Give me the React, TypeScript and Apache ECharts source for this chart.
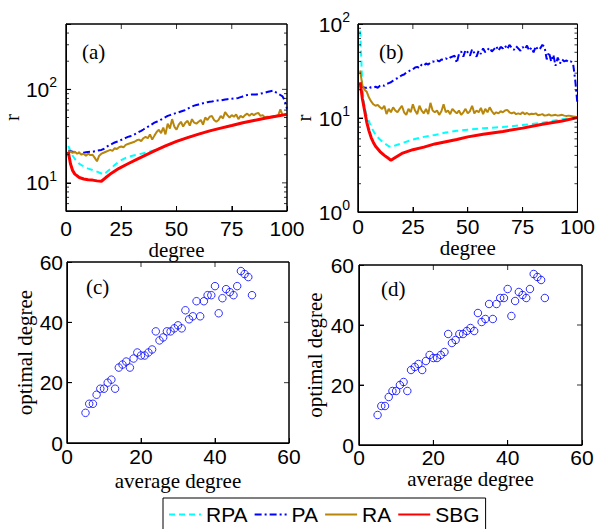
import React, { useEffect, useRef } from 'react';
import * as echarts from 'echarts';

// ---------- data ----------
const legendNames = ['RPA', 'PA', 'RA', 'SBG'];

// axis ranges and tick values
const degreeRange = [0, 100];
const rRangeA = [5, 500];
const rRangeB = [1, 100];
const avgRange = [0, 60];
const optRange = [0, 60];
const degreeTicks = [25, 50, 75];
const rTicksA = [10, 100];
const rTicksB = [10];
const rMinorA = [6, 7, 8, 9, 20, 30, 40, 50, 60, 70, 80, 90, 200, 300, 400];
const rMinorB = [2, 3, 4, 5, 6, 7, 8, 9, 20, 30, 40, 50, 60, 70, 80, 90];
const avgTicks = [20, 40];
const optTicks = [20, 40];

// panel (a)
const aRPA = [[1,24.8],[2,22],[3,19.5],[4,18],[6,16],[8,15],[10,14.2],[12,13.7],[14,13.2],[16,12.6],[17,12.3],[18,12.8],[20,14],[22,15.5],[24,17],[27,18.5],[30,19.5],[33,20.2],[36,21],[40,22.3],[45,24.8],[50,27.8],[55,30.5],[60,33.2],[70,38.5],[80,44],[90,49],[100,54]];
const aPA = [22,21.8,21.5,21.2,21,21,21,21,21.2,21.4,21.5,21.5,21.8,22,22.3,22.5,23,24,24.8,25.5,26.3,27,27.5,28,28.8,29.5,30.3,31,31.5,32,33,34,35,36,37.2,38.5,39.8,41,42.5,44,45,46,47.5,49,50.5,52,53,54,55,56,57,58,59,60,62,64,65.5,67,68,69,70,71,72,73,73.5,74,75,76,76,76,77,78,78.5,79,79.5,80,80.5,81,82.5,84,85.5,87,87.5,88,88,88,89,90,91,92,93.5,95,96,97,93,90,87,84,76,62];
const aRA = [22,21.5,21,21.5,20.5,21,20,20.5,19.5,20.5,19.8,20,18.5,17,19.5,20.5,21,21.5,22,22.5,22,23.5,23,24,24.5,24,25.5,26,26.5,27,27.5,28.5,29,28,30,31,30,33,29,32,35,37,34,39,33,43,38,48,40,37,42,45,40,44,46,41,48,44,43,45,47,42,50,47,51,52,47,45,47,52,49,57,53,50,53,51,54,48,52,50,53,55,52,55,53,55,56,52,53,50,51,50.5,51,51.5,52,52.5,61,53,54,54.5];
const aSBG = [[1,21.5],[2,16],[3,13.5],[4,12.4],[6,11.4],[8,11],[10,10.8],[12,10.7],[14,10.5],[16,10.4],[18,11.4],[20,12.4],[24,14.3],[28,16],[32,17.8],[36,19.8],[40,22],[45,24.8],[50,27.8],[55,30.5],[60,33.2],[65,36],[70,38.5],[75,41],[80,44],[85,46.5],[90,49],[95,51.5],[100,54]];

// panel (b)
const bRPA = [[1,85],[2,21],[3,12.8],[4,10.5],[5,9.2],[6,8],[8,6.6],[10,5.9],[12,5.4],[14,5.0],[15,4.9],[17,5.1],[20,5.4],[25,5.9],[30,6.3],[35,6.6],[40,7.0],[45,7.3],[50,7.5],[57,7.8],[66,8.0],[75,8.4],[84,8.9],[93,9.7],[100,10.2]];
const bPA = [22,21.5,21,21,21.5,21,21,21.5,21,22,22.5,22,23,23.5,24,25,26,26.5,27.5,28.5,29,30.5,31,32.5,33,34.5,35,34,37,36,38,37,39,40,39.5,41,40,42,41.5,43,42,44,45,46,38.5,48,51,45,53,50,46,54,49,45,52,48,55,50,53,56,51,54,58,52,57,55,59,54,60,56,53,58,55,52,57,54,59,52,56,50,58,53,55,60,57,42,50,40,47,36,44,38,42,40,41,39,40,38,25,14];
const bRA = [32,22,20,19,16.5,15,14,13.5,13.8,13,12.5,13.5,11,12.5,11.5,13,12,11.5,12.5,13.5,11.5,10.8,12.5,11.5,14,12,11,13.5,12,11.2,12.5,11,14.5,12,11.5,12,10.8,11.8,14,11.5,12,11,12.5,11.8,11.2,12,10.8,11.5,12.5,11.2,11.8,13.5,11.2,12,11.5,12.8,11,12.5,11.5,13,11.8,11,11.5,11.2,11.8,11.5,12,12.2,11.5,11.2,11.5,11,11.2,11,11.5,11,11.3,10.9,11.1,11,11.2,10.7,10.8,11,10.6,10.7,10.9,10.6,10.7,10.8,10.6,10.7,10.8,10.6,10.5,10.6,10.5,10.4,10.3,10.2];
const bSBG = [[1,24],[2,16],[3,12],[4,9],[5,7.3],[6,6.2],[7,5.5],[8,5.0],[10,4.4],[12,4.0],[14,3.7],[15,3.55],[17,3.8],[20,4.2],[25,4.6],[30,4.9],[35,5.3],[40,5.6],[45,5.9],[50,6.3],[57,6.7],[66,7.2],[75,7.8],[84,8.6],[93,9.3],[100,10.1]];

// panels (c) and (d)
const averageDegree = [5,6,7,8,9,10,11,12,13,14,15,16,17,18,19,20,21,22,23,24,25,26,27,28,29,30,31,32,33,34,35,36,37,38,39,40,41,42,43,44,45,46,47,48,49,50];
const optimalDegreeC = [10,13,13,16,18,18,20,21,18,25,26,27,25,28,30,29,29,30,31,37,34,35,37,37,38,39,38,44,41,42,47,42,47,49,49,52,43,48,51,50,49,52,57,56,55,49];
const optimalDegreeD = [10,13,13,16,18,18,20,21,18,25,26,27,25,28,30,29,29,30,31,37,34,35,37,37,38,39,38,44,41,42,47,42,47,49,49,52,43,48,51,50,49,52,57,56,55,49];

// ---------- styling ----------
const SANS = '"Liberation Sans", Arial, Helvetica, sans-serif';
const SERIF = '"Liberation Serif", "Times New Roman", serif';
const C_RPA = '#00ffff';
const C_PA = '#0000ff';
const C_RA = '#b8860b';
const C_SBG = '#ff0000';
const DASH = [6, 4];
const DASHDOT = [7, 3, 2, 3];

const grids = [
  { left: 66, top: 24, width: 221, height: 187 },
  { left: 358, top: 24, width: 220, height: 188 },
  { left: 67, top: 262, width: 222, height: 181 },
  { left: 359, top: 265, width: 223, height: 180 },
];

const mkLine = () => ({ show: true, onZero: false, lineStyle: { color: '#000', width: 1 } });
const mkTick = () => ({ show: true, inside: true, length: 5, lineStyle: { color: '#000', width: 1 } });

function logLabel(v: number) {
  const l = Math.log10(v);
  const e = Math.round(l);
  if (Math.abs(l - e) > 1e-6) return '';
  return '{b|10}{s|' + e + '}';
}

function mainX(gi: number, r: number[], interval: number, name: string, nameGap: number, margin: number) {
  return {
    type: 'value', gridIndex: gi, min: r[0], max: r[1], interval, name, nameLocation: 'middle', nameGap,
    nameTextStyle: { fontFamily: SERIF, fontSize: 21, color: '#000' },
    axisLine: mkLine(), axisTick: mkTick(),
    axisLabel: { margin, fontFamily: SANS, fontSize: 21, color: '#000' },
    splitLine: { show: false },
  };
}
function logY(gi: number, r: number[], name: string, nameGap: number, margin: number) {
  return {
    type: 'log', logBase: 10, gridIndex: gi, min: r[0], max: r[1], name, nameLocation: 'middle', nameGap,
    nameTextStyle: { fontFamily: SERIF, fontSize: 21, color: '#000' },
    axisLine: mkLine(), axisTick: mkTick(),
    axisLabel: {
      margin, color: '#000', formatter: logLabel,
      rich: {
        b: { fontFamily: SANS, fontSize: 21, color: '#000' },
        s: { fontFamily: SANS, fontSize: 14, color: '#000', padding: [0, 0, 14, 0] },
      },
    },
    splitLine: { show: false },
  };
}
function linY(gi: number, r: number[], interval: number, name: string, nameGap: number, margin: number) {
  return {
    type: 'value', gridIndex: gi, min: r[0], max: r[1], interval, name, nameLocation: 'middle', nameGap,
    nameTextStyle: { fontFamily: SERIF, fontSize: 21, color: '#000' },
    axisLine: mkLine(), axisTick: mkTick(),
    axisLabel: { margin, fontFamily: SANS, fontSize: 21, color: '#000' },
    splitLine: { show: false },
  };
}

const toPairs = (vals: number[]) => vals.map((v, i) => [i + 1, v]);

function lineSeries(name: string, data: any[], idx: number, color: string, width: number, type: any) {
  return {
    type: 'line', name, data, xAxisIndex: idx, yAxisIndex: idx,
    symbol: 'none', smooth: false,
    lineStyle: { color, width, type },
    itemStyle: { color },
  };
}
function scatterSeries(xs: number[], ys: number[], idx: number) {
  return {
    type: 'scatter', name: 'optimal', xAxisIndex: idx, yAxisIndex: idx,
    data: xs.map((x, i) => [x, ys[i]]),
    symbol: 'circle', symbolSize: 7.5,
    itemStyle: { color: 'rgba(255,255,255,0)', borderColor: '#0000ff', borderWidth: 1 },
  };
}

// axes box drawn through the panel's own scales (corners at the axis limits)
function frameSeries(idx: number, xr: number[], yr: number[]) {
  return {
    type: 'line', name: 'box', xAxisIndex: idx, yAxisIndex: idx,
    data: [[xr[0], yr[0]], [xr[1], yr[0]], [xr[1], yr[1]], [xr[0], yr[1]], [xr[0], yr[0]]],
    symbol: 'none', clip: false, silent: true, z: 5,
    lineStyle: { color: '#000', width: 1, type: 'solid' },
    itemStyle: { color: '#000' },
  };
}
// inward tick marks on all four sides, placed at the tick values
function tickSeries(idx: number, xr: number[], yr: number[], xt: number[], yt: number[], len: number) {
  const common = {
    type: 'scatter', name: 'tick', xAxisIndex: idx, yAxisIndex: idx,
    symbol: 'rect', clip: false, silent: true, z: 5,
    itemStyle: { color: '#000' },
  };
  return [
    { ...common, data: xt.map(t => [t, yr[0]]), symbolSize: [1, len], symbolOffset: [0, -len / 2] },
    { ...common, data: xt.map(t => [t, yr[1]]), symbolSize: [1, len], symbolOffset: [0, len / 2] },
    { ...common, data: yt.map(t => [xr[0], t]), symbolSize: [len, 1], symbolOffset: [len / 2, 0] },
    { ...common, data: yt.map(t => [xr[1], t]), symbolSize: [len, 1], symbolOffset: [-len / 2, 0] },
  ];
}

export default function App() {
  const ref = useRef<HTMLDivElement>(null);
  useEffect(() => {
    document.body.style.margin = '0';
    if (!ref.current) return;
    const chart = echarts.init(ref.current, undefined, { renderer: 'svg' });
    const option: any = {
      animation: false,
      grid: grids.map(g => ({ ...g, show: true, borderColor: '#000', borderWidth: 1, backgroundColor: 'transparent' })),
      xAxis: [
        mainX(0, degreeRange, 25, 'degree', 25, 7),
        mainX(1, degreeRange, 25, 'degree', 23, 4),
        mainX(2, avgRange, 20, 'average degree', 27, 3),
        mainX(3, avgRange, 20, 'average degree', 20, 2),
      ],
      yAxis: [
        logY(0, rRangeA, 'r', 42, 9),
        logY(1, rRangeB, 'r', 40, 8),
        linY(2, optRange, 20, 'optimal degree', 32, 4),
        linY(3, optRange, 20, 'optimal degree', 34, 5),
      ],
      legend: {
        data: legendNames,
        left: 163, top: 498,
        itemWidth: 32, itemHeight: 14, itemGap: 6,
        padding: [6, 6, 6, 5],
        borderColor: '#000', borderWidth: 1,
        itemStyle: { opacity: 0, borderWidth: 0 },
        textStyle: { fontFamily: SANS, fontSize: 21, color: '#000' },
      },
      series: [
        lineSeries('RPA', aRPA, 0, C_RPA, 2, DASH),
        lineSeries('PA', toPairs(aPA), 0, C_PA, 2, DASHDOT),
        lineSeries('RA', toPairs(aRA), 0, C_RA, 2, 'solid'),
        lineSeries('SBG', aSBG, 0, C_SBG, 3, 'solid'),
        lineSeries('RPA', bRPA, 1, C_RPA, 2, DASH),
        lineSeries('PA', toPairs(bPA), 1, C_PA, 2, DASHDOT),
        lineSeries('RA', toPairs(bRA), 1, C_RA, 2, 'solid'),
        lineSeries('SBG', bSBG, 1, C_SBG, 3, 'solid'),
        scatterSeries(averageDegree, optimalDegreeC, 2),
        scatterSeries(averageDegree, optimalDegreeD, 3),
        frameSeries(0, degreeRange, rRangeA),
        frameSeries(1, degreeRange, rRangeB),
        frameSeries(2, avgRange, optRange),
        frameSeries(3, avgRange, optRange),
        ...tickSeries(0, degreeRange, rRangeA, degreeTicks, rTicksA, 5),
        ...tickSeries(0, degreeRange, rRangeA, [], rMinorA, 3),
        ...tickSeries(1, degreeRange, rRangeB, degreeTicks, rTicksB, 5),
        ...tickSeries(1, degreeRange, rRangeB, [], rMinorB, 3),
        ...tickSeries(2, avgRange, optRange, avgTicks, optTicks, 5),
        ...tickSeries(3, avgRange, optRange, avgTicks, optTicks, 5),
      ],
      graphic: [
        { type: 'text', left: 82, top: 41, style: { text: '(a)', font: '21px ' + SERIF, fill: '#000' } },
        { type: 'text', left: 379, top: 41, style: { text: '(b)', font: '21px ' + SERIF, fill: '#000' } },
        { type: 'text', left: 86, top: 276, style: { text: '(c)', font: '21px ' + SERIF, fill: '#000' } },
        { type: 'text', left: 381, top: 278, style: { text: '(d)', font: '21px ' + SERIF, fill: '#000' } },
      ],
    };
    chart.setOption(option);
    return () => chart.dispose();
  }, []);
  return <div ref={ref} style={{ width: 598, height: 529 }} />;
}
